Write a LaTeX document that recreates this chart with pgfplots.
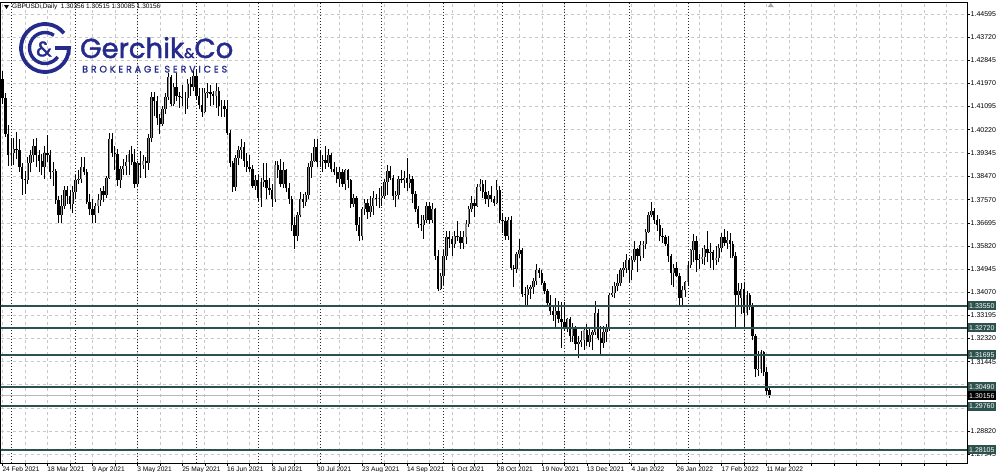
\documentclass[border=0pt]{standalone}
\usepackage{pgfplots}
\pgfplotsset{compat=1.18}
\usepackage{pgfplotstable}
\usepackage{fontspec}
\setmainfont{Liberation Sans}
\newfontfamily\logofont[FakeBold=1.6]{Poppins}
\newfontfamily\logospaced[LetterSpace=30,FakeBold=1.2]{Poppins}
\definecolor{lvl}{RGB}{45,82,78}
\definecolor{logoblue}{RGB}{37,43,140}
\definecolor{bull}{RGB}{140,140,140}
\definecolor{gridc}{RGB}{200,200,200}

\pgfplotstableread{
i o h l c
0 1.4215 1.4243 1.4120 1.4140
1 1.4140 1.4160 1.3995 1.4005
2 1.4005 1.4040 1.3885 1.3925
3 1.3925 1.3990 1.3890 1.3935
4 1.3935 1.3990 1.3890 1.3950
5 1.3950 1.4015 1.3910 1.3945
6 1.3945 1.3985 1.3860 1.3880
7 1.3880 1.3895 1.3775 1.3835
8 1.3835 1.3865 1.3780 1.3830
9 1.3830 1.3920 1.3815 1.3895
10 1.3895 1.3945 1.3860 1.3925
11 1.3925 1.3985 1.3900 1.3960
12 1.3960 1.3990 1.3880 1.3925
13 1.3925 1.3945 1.3860 1.3905
14 1.3905 1.3930 1.3850 1.3880
15 1.3880 1.3960 1.3835 1.3935
16 1.3935 1.4000 1.3900 1.3925
17 1.3925 1.3945 1.3835 1.3860
18 1.3860 1.3900 1.3810 1.3865
19 1.3865 1.3875 1.3740 1.3755
20 1.3755 1.3770 1.3670 1.3700
21 1.3700 1.3775 1.3670 1.3735
22 1.3735 1.3810 1.3720 1.3795
23 1.3795 1.3810 1.3740 1.3770
24 1.3770 1.3795 1.3720 1.3740
25 1.3740 1.3810 1.3705 1.3785
26 1.3785 1.3850 1.3760 1.3830
27 1.3830 1.3870 1.3815 1.3835
28 1.3835 1.3920 1.3820 1.3880
29 1.3880 1.3920 1.3850 1.3860
30 1.3860 1.3875 1.3740 1.3750
31 1.3750 1.3780 1.3700 1.3720
32 1.3720 1.3760 1.3670 1.3700
33 1.3700 1.3745 1.3670 1.3735
34 1.3735 1.3780 1.3705 1.3755
35 1.3755 1.3800 1.3735 1.3790
36 1.3790 1.3810 1.3750 1.3775
37 1.3775 1.3845 1.3765 1.3840
38 1.3840 1.4010 1.3835 1.3985
39 1.3985 1.4010 1.3920 1.3935
40 1.3935 1.3960 1.3870 1.3930
41 1.3930 1.3950 1.3810 1.3830
42 1.3830 1.3885 1.3800 1.3875
43 1.3875 1.3910 1.3850 1.3885
44 1.3885 1.3925 1.3850 1.3900
45 1.3900 1.3945 1.3850 1.3930
46 1.3930 1.3960 1.3890 1.3900
47 1.3900 1.3950 1.3800 1.3815
48 1.3815 1.3905 1.3805 1.3895
49 1.3895 1.3940 1.3840 1.3890
50 1.3890 1.3925 1.3875 1.3905
51 1.3905 1.3920 1.3840 1.3895
52 1.3895 1.4005 1.3870 1.3990
53 1.3990 1.4165 1.3975 1.4145
54 1.4145 1.4165 1.4075 1.4130
55 1.4130 1.4150 1.4040 1.4065
56 1.4065 1.4080 1.4005 1.4045
57 1.4045 1.4110 1.4035 1.4100
58 1.4100 1.4160 1.4080 1.4145
59 1.4145 1.4235 1.4135 1.4220
60 1.4220 1.4230 1.4110 1.4120
61 1.4120 1.4200 1.4110 1.4185
62 1.4185 1.4235 1.4130 1.4150
63 1.4150 1.4165 1.4105 1.4145
64 1.4145 1.4190 1.4110 1.4140
65 1.4140 1.4165 1.4080 1.4140
66 1.4140 1.4215 1.4100 1.4195
67 1.4195 1.4220 1.4150 1.4185
68 1.4185 1.4245 1.4170 1.4225
69 1.4225 1.4250 1.4135 1.4150
70 1.4150 1.4180 1.4100 1.4115
71 1.4115 1.4180 1.4070 1.4090
72 1.4090 1.4180 1.4085 1.4160
73 1.4160 1.4200 1.4140 1.4165
74 1.4165 1.4190 1.4110 1.4155
75 1.4155 1.4170 1.4115 1.4150
76 1.4150 1.4200 1.4105 1.4170
77 1.4170 1.4185 1.4075 1.4110
78 1.4110 1.4135 1.4070 1.4110
79 1.4110 1.4135 1.4070 1.4100
80 1.4100 1.4135 1.4000 1.4010
81 1.4010 1.4020 1.3880 1.3895
82 1.3895 1.3905 1.3787 1.3805
83 1.3805 1.3925 1.3790 1.3915
84 1.3915 1.3960 1.3890 1.3945
85 1.3945 1.3985 1.3910 1.3955
86 1.3955 1.3975 1.3880 1.3905
87 1.3905 1.3935 1.3860 1.3880
88 1.3880 1.3925 1.3860 1.3875
89 1.3875 1.3890 1.3800 1.3810
90 1.3810 1.3850 1.3795 1.3830
91 1.3830 1.3850 1.3750 1.3765
92 1.3765 1.3840 1.3730 1.3825
93 1.3825 1.3895 1.3805 1.3830
94 1.3830 1.3895 1.3760 1.3800
95 1.3800 1.3840 1.3775 1.3795
96 1.3795 1.3815 1.3730 1.3760
97 1.3760 1.3905 1.3750 1.3890
98 1.3890 1.3905 1.3840 1.3870
99 1.3870 1.3910 1.3805 1.3815
100 1.3815 1.3900 1.3800 1.3870
101 1.3870 1.3875 1.3785 1.3800
102 1.3800 1.3820 1.3740 1.3760
103 1.3760 1.3770 1.3640 1.3660
104 1.3660 1.3690 1.3570 1.3620
105 1.3620 1.3710 1.3600 1.3700
106 1.3700 1.3785 1.3690 1.3760
107 1.3760 1.3780 1.3725 1.3750
108 1.3750 1.3785 1.3735 1.3775
109 1.3775 1.3895 1.3760 1.3880
110 1.3880 1.3935 1.3840 1.3905
111 1.3905 1.3985 1.3900 1.3955
112 1.3955 1.3985 1.3880 1.3900
113 1.3900 1.3945 1.3880 1.3905
114 1.3905 1.3925 1.3860 1.3908
115 1.3908 1.3960 1.3875 1.3895
116 1.3895 1.3950 1.3880 1.3925
117 1.3925 1.3935 1.3860 1.3875
118 1.3875 1.3900 1.3850 1.3860
119 1.3860 1.3880 1.3820 1.3835
120 1.3835 1.3880 1.3805 1.3860
121 1.3860 1.3875 1.3805 1.3815
122 1.3815 1.3875 1.3795 1.3870
123 1.3870 1.3875 1.3800 1.3830
124 1.3830 1.3835 1.3725 1.3740
125 1.3740 1.3780 1.3730 1.3765
126 1.3765 1.3770 1.3640 1.3660
127 1.3660 1.3690 1.3600 1.3620
128 1.3620 1.3730 1.3605 1.3720
129 1.3720 1.3760 1.3700 1.3745
130 1.3745 1.3760 1.3685 1.3710
131 1.3710 1.3770 1.3690 1.3735
132 1.3735 1.3790 1.3700 1.3765
133 1.3765 1.3780 1.3735 1.3760
134 1.3760 1.3800 1.3725 1.3763
135 1.3763 1.3810 1.3735 1.3770
136 1.3770 1.3835 1.3760 1.3825
137 1.3825 1.3890 1.3775 1.3865
138 1.3865 1.3885 1.3830 1.3840
139 1.3840 1.3850 1.3755 1.3770
140 1.3770 1.3790 1.3730 1.3775
141 1.3775 1.3845 1.3760 1.3835
142 1.3835 1.3870 1.3820 1.3830
143 1.3830 1.3865 1.3800 1.3840
144 1.3840 1.3913 1.3790 1.3820
145 1.3820 1.3855 1.3800 1.3835
146 1.3835 1.3845 1.3745 1.3780
147 1.3780 1.3790 1.3710 1.3720
148 1.3720 1.3735 1.3650 1.3665
149 1.3665 1.3700 1.3640 1.3660
150 1.3660 1.3700 1.3610 1.3680
151 1.3680 1.3750 1.3670 1.3735
152 1.3735 1.3750 1.3665 1.3680
153 1.3680 1.3745 1.3670 1.3720
154 1.3720 1.3725 1.3530 1.3545
155 1.3545 1.3565 1.3412 1.3420
156 1.3420 1.3480 1.3415 1.3470
157 1.3470 1.3565 1.3435 1.3545
158 1.3545 1.3640 1.3530 1.3615
159 1.3615 1.3640 1.3575 1.3610
160 1.3610 1.3620 1.3545 1.3590
161 1.3590 1.3640 1.3575 1.3620
162 1.3620 1.3675 1.3600 1.3615
163 1.3615 1.3640 1.3570 1.3595
164 1.3595 1.3640 1.3570 1.3615
165 1.3615 1.3680 1.3590 1.3665
166 1.3665 1.3735 1.3655 1.3720
167 1.3720 1.3770 1.3710 1.3745
168 1.3745 1.3760 1.3690 1.3735
169 1.3735 1.3815 1.3730 1.3805
170 1.3805 1.3834 1.3790 1.3815
171 1.3815 1.3830 1.3765 1.3785
172 1.3785 1.3830 1.3740 1.3760
173 1.3760 1.3790 1.3730 1.3775
174 1.3775 1.3810 1.3750 1.3760
175 1.3760 1.3770 1.3735 1.3745
176 1.3745 1.3830 1.3740 1.3795
177 1.3795 1.3810 1.3670 1.3680
178 1.3680 1.3705 1.3630 1.3675
179 1.3675 1.3690 1.3605 1.3620
180 1.3620 1.3690 1.3605 1.3680
181 1.3680 1.3695 1.3490 1.3500
182 1.3500 1.3510 1.3425 1.3495
183 1.3495 1.3560 1.3480 1.3550
184 1.3550 1.3610 1.3535 1.3565
185 1.3565 1.3575 1.3390 1.3400
186 1.3400 1.3425 1.3355 1.3395
187 1.3395 1.3435 1.3360 1.3420
188 1.3420 1.3435 1.3380 1.3425
189 1.3425 1.3460 1.3400 1.3450
190 1.3450 1.3514 1.3435 1.3490
191 1.3490 1.3500 1.3460 1.3480
192 1.3480 1.3490 1.3435 1.3440
193 1.3440 1.3450 1.3400 1.3410
194 1.3410 1.3420 1.3355 1.3365
195 1.3365 1.3395 1.3320 1.3335
196 1.3335 1.3350 1.3300 1.3320
197 1.3320 1.3385 1.3275 1.3335
198 1.3335 1.3375 1.3290 1.3305
199 1.3305 1.3370 1.3195 1.3295
200 1.3295 1.3370 1.3260 1.3275
201 1.3275 1.3310 1.3255 1.3305
202 1.3305 1.3315 1.3220 1.3240
203 1.3240 1.3290 1.3220 1.3275
204 1.3275 1.3280 1.3190 1.3210
205 1.3210 1.3240 1.3160 1.3220
206 1.3220 1.3260 1.3200 1.3225
207 1.3225 1.3275 1.3190 1.3265
208 1.3265 1.3285 1.3205 1.3220
209 1.3220 1.3275 1.3200 1.3245
210 1.3245 1.3265 1.3190 1.3255
211 1.3255 1.3375 1.3245 1.3330
212 1.3330 1.3345 1.3225 1.3235
213 1.3235 1.3280 1.3170 1.3215
214 1.3215 1.3280 1.3195 1.3255
215 1.3255 1.3285 1.3220 1.3270
216 1.3270 1.3405 1.3260 1.3395
217 1.3395 1.3430 1.3390 1.3405
218 1.3405 1.3445 1.3385 1.3430
219 1.3430 1.3475 1.3410 1.3440
220 1.3440 1.3500 1.3430 1.3490
221 1.3490 1.3520 1.3465 1.3500
222 1.3500 1.3550 1.3480 1.3530
223 1.3530 1.3535 1.3440 1.3490
224 1.3490 1.3545 1.3455 1.3530
225 1.3530 1.3600 1.3520 1.3570
226 1.3570 1.3575 1.3485 1.3545
227 1.3545 1.3600 1.3525 1.3585
228 1.3585 1.3600 1.3535 1.3590
229 1.3590 1.3645 1.3570 1.3635
230 1.3635 1.3710 1.3630 1.3700
231 1.3700 1.3749 1.3690 1.3715
232 1.3715 1.3725 1.3665 1.3680
233 1.3680 1.3700 1.3640 1.3660
234 1.3660 1.3685 1.3600 1.3620
235 1.3620 1.3650 1.3595 1.3615
236 1.3615 1.3625 1.3580 1.3590
237 1.3590 1.3620 1.3520 1.3545
238 1.3545 1.3550 1.3435 1.3480
239 1.3480 1.3515 1.3425 1.3500
240 1.3500 1.3520 1.3465 1.3470
241 1.3470 1.3480 1.3360 1.3385
242 1.3385 1.3430 1.3358 1.3415
243 1.3415 1.3450 1.3390 1.3445
244 1.3445 1.3525 1.3430 1.3510
245 1.3510 1.3570 1.3500 1.3565
246 1.3565 1.3627 1.3520 1.3600
247 1.3600 1.3620 1.3485 1.3530
248 1.3530 1.3550 1.3495 1.3532
249 1.3532 1.3575 1.3515 1.3540
250 1.3540 1.3585 1.3510 1.3570
251 1.3570 1.3640 1.3520 1.3555
252 1.3555 1.3595 1.3500 1.3560
253 1.3560 1.3565 1.3490 1.3530
254 1.3530 1.3580 1.3510 1.3535
255 1.3535 1.3590 1.3520 1.3575
256 1.3575 1.3630 1.3560 1.3615
257 1.3615 1.3645 1.3580 1.3595
258 1.3595 1.3640 1.3570 1.3605
259 1.3605 1.3630 1.3535 1.3590
260 1.3590 1.3600 1.3535 1.3545
261 1.3545 1.3560 1.3272 1.3395
262 1.3395 1.3440 1.3355 1.3410
263 1.3385 1.3440 1.3325 1.3420
264 1.3420 1.3440 1.3272 1.3330
265 1.3330 1.3410 1.3320 1.3395
266 1.3395 1.3405 1.3340 1.3360
267 1.3360 1.3365 1.3225 1.3240
268 1.3240 1.3250 1.3085 1.3115
269 1.3115 1.3185 1.3090 1.3118
270 1.3118 1.3190 1.3100 1.3180
271 1.3180 1.3185 1.3090 1.3105
272 1.3105 1.3125 1.3015 1.3035
273 1.30356 1.30515 1.30085 1.30156
}\candles

\begin{document}
\begin{tikzpicture}
\fill[white] (0pt,0pt) rectangle (1000pt,-471pt);
\path[use as bounding box] (0pt,0pt) rectangle (1000pt,-471pt);
\begin{axis}[
  at={(0.5pt,-2pt)}, anchor=north west,
  scale only axis, width=966.5pt, height=461pt,
  xmin=-0.712, xmax=343.36, ymin=1.27609, ymax=1.45049,
  axis line style={black, line width=0.8pt},
  clip=true,
  xtick={0,8,...,336},
  xticklabels={24 Feb 2021,,18 Mar 2021,,9 Apr 2021,,3 May 2021,,25 May 2021,,16 Jun 2021,,8 Jul 2021,,30 Jul 2021,,23 Aug 2021,,14 Sep 2021,,6 Oct 2021,,28 Oct 2021,,19 Nov 2021,,13 Dec 2021,,4 Jan 2022,,26 Jan 2022,,17 Feb 2022,,11 Mar 2022},
  ytick={1.44595,1.43720,1.42845,1.41970,1.41095,1.40220,1.39345,1.38470,1.37570,1.36695,1.35820,1.34945,1.34070,1.33195,1.32320,1.31445,1.30570,1.29695,1.28820,1.27945},
  yticklabels={1.44595,1.43720,1.42845,1.41970,1.41095,1.40220,1.39345,1.38470,1.37570,1.36695,1.35820,1.34945,1.34070,1.33195,1.32320,1.31445,,1.29695,1.28820,1.27945},
  xtick pos=left, ytick pos=right, yticklabel pos=right,
  tick align=outside, major tick length=2.5pt,
  tick style={black, line width=0.5pt},
  y tick label style={font=\fontsize{7}{8}\selectfont, inner sep=1pt},
  x tick label style={font=\fontsize{6.6}{7}\selectfont, anchor=north west, inner sep=0.8pt, xshift=-1pt},
  xmajorgrids, ymajorgrids,
  major grid style={gridc, line width=0.6pt, dash pattern=on 3pt off 3pt},
  extra x ticks={3,26,48,69,91,113,135,157,178,200,223,244,264},
  extra x tick labels={},
  extra x tick style={major tick length=0pt, grid=major, major grid style={black!85, line width=0.7pt, dash pattern=on 1.5pt off 1.5pt}},
]
% wicks
\addplot[draw=none, mark=none, forget plot,
  error bars/.cd, y dir=plus, y explicit, error mark=none,
  error bar style={line width=0.8pt, draw=black}]
  table[x=i, y=l, y error plus expr=\thisrow{h}-\thisrow{l}] {\candles};
% bull bodies: black outline then grey fill
\addplot[draw=none, mark=none, forget plot,
  restrict expr to domain={\thisrow{c}-\thisrow{o}}{0:1},
  error bars/.cd, y dir=plus, y explicit, error mark=none,
  error bar style={line width=2.4pt, draw=black}]
  table[x=i, y=o, y error plus expr=\thisrow{c}-\thisrow{o}] {\candles};
\addplot[draw=none, mark=none, forget plot,
  restrict expr to domain={\thisrow{c}-\thisrow{o}}{0:1},
  error bars/.cd, y dir=plus, y explicit, error mark=none,
  error bar style={line width=1.1pt, draw=bull}]
  table[x=i, y=o, y error plus expr=\thisrow{c}-\thisrow{o}] {\candles};
% bear bodies
\addplot[draw=none, mark=none, forget plot,
  restrict expr to domain={\thisrow{o}-\thisrow{c}}{0.000001:1},
  error bars/.cd, y dir=plus, y explicit, error mark=none,
  error bar style={line width=2.4pt, draw=black}]
  table[x=i, y=c, y error plus expr=\thisrow{o}-\thisrow{c}] {\candles};
% bid line
\addplot[gray!55, line width=0.5pt] coordinates {(-1,1.30156) (344,1.30156)};
% levels
\addplot[lvl, line width=1.6pt] coordinates {(-1,1.33550) (344,1.33550)};
\addplot[lvl, line width=1.6pt] coordinates {(-1,1.32720) (344,1.32720)};
\addplot[lvl, line width=1.6pt] coordinates {(-1,1.31695) (344,1.31695)};
\addplot[lvl, line width=1.6pt] coordinates {(-1,1.30490) (344,1.30490)};
\addplot[lvl, line width=1.6pt] coordinates {(-1,1.29760) (344,1.29760)};
\addplot[lvl, line width=1.6pt] coordinates {(-1,1.28105) (344,1.28105)};
\coordinate (L1) at (axis cs:343.36,1.33550);
\coordinate (L2) at (axis cs:343.36,1.32720);
\coordinate (L3) at (axis cs:343.36,1.31695);
\coordinate (L4) at (axis cs:343.36,1.30490);
\coordinate (L5) at (axis cs:343.36,1.29760);
\coordinate (L6) at (axis cs:343.36,1.28105);
\coordinate (LB) at (axis cs:343.36,1.30156);
\coordinate (SH) at (axis cs:273.5,1.45049);
\end{axis}
% price labels
\tikzset{plab/.style={fill=lvl, text=white, font=\fontsize{7}{8}\selectfont, inner xsep=1.5pt, inner ysep=1pt, anchor=west, minimum height=9pt}}
\node[plab] at ([xshift=0.5pt]L1) {1.33550};
\node[plab] at ([xshift=0.5pt]L2) {1.32720};
\node[plab] at ([xshift=0.5pt]L3) {1.31695};
\node[plab] at ([xshift=0.5pt]L4) {1.30490};
\node[plab] at ([xshift=0.5pt]L5) {1.29760};
\node[plab] at ([xshift=0.5pt]L6) {1.28105};
\node[plab, fill=black] at ([xshift=0.5pt]LB) {1.30156};
% shift marker
\fill[gray!70] ([xshift=-3pt,yshift=-5pt]SH) -- ([xshift=3pt,yshift=-5pt]SH) -- ([yshift=-1pt]SH) -- cycle;
% title
\fill[black] (4pt,-5pt) -- (9pt,-5pt) -- (6.5pt,-9pt) -- cycle;
\node[anchor=west, inner sep=0pt, font=\fontsize{6.5}{7}\selectfont] at (12pt,-7pt) {GBPUSDi,Daily\ \ 1.30356 1.30515 1.30085 1.30156};
% logo emblem
\draw[logoblue, line width=3.8pt] (45pt,-48pt) ++(38:24pt) arc[start angle=38, end angle=360, radius=24pt] -- ++(-14pt,0pt);
\draw[logoblue, line width=3.4pt] (45pt,-48pt) ++(55:15.5pt) arc[start angle=55, end angle=325, radius=15.5pt];
\node[logoblue, font=\logofont\fontsize{21}{21}\selectfont, inner sep=0pt] at (44pt,-49pt) {\&};
% logo text
\node[logoblue, anchor=base west, inner sep=0pt, font=\logofont\fontsize{27.5}{28}\selectfont] at (80pt,-58pt) {Gerchik{\fontsize{14}{14}\selectfont\&}Co};
\node[logoblue, anchor=base west, inner sep=0pt, font=\logospaced\fontsize{9.5}{10}\selectfont] at (82pt,-72.5pt) {BROKERAGE SERVICES};
\end{tikzpicture}
\end{document}
